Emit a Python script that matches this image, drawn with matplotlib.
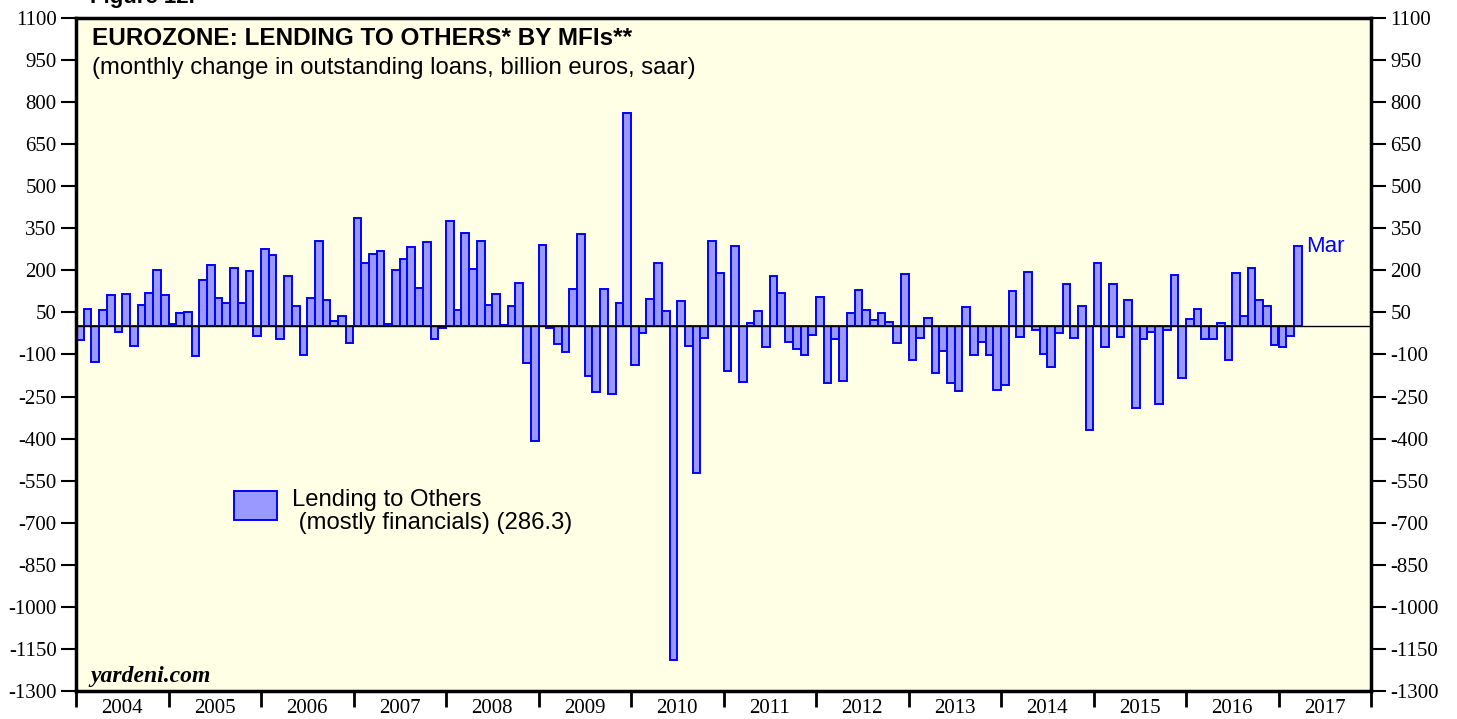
"""Eurozone lending to others by MFIs - monthly change bar chart."""

import matplotlib
matplotlib.use("Agg")
import matplotlib.pyplot as plt
import numpy as np

# monthly change in outstanding loans, billion euros, saar (Jan 2004 - Mar 2017)
lending = [
    # 2004
    -50, 62, -128, 59, 112, -21, 117, -69, 76, 120, 200, 111,
    # 2005
    8, 49, 52, -106, 165, 220, 101, 84, 208, 84, 197, -33,
    # 2006
    276, 254, -45, 181, 73, -103, 101, 303, 96, 19, 38, -58,
    # 2007
    388, 226, 257, 268, 10, 202, 241, 284, 137, 302, -46, -6,
    # 2008
    377, 57, 334, 204, 306, 77, 117, 6, 73, 156, -130, -409,
    # 2009
    290, -5, -62, -90, 133, 328, -175, -235, 133, -240, 84, 760,
    # 2010
    -137, -23, 97, 226, 54, -1190, 90, -68, -523, -42, 304, 190,
    # 2011
    -159, 288, -199, 12, 55, -74, 180, 119, -55, -80, -102, -32,
    # 2012
    105, -201, -44, -193, 48, 131, 59, 24, 48, 15, -58, 187,
    # 2013
    -119, -42, 30, -166, -89, -202, -231, 70, -103, -56, -102, -228,
    # 2014
    -207, 128, -36, 194, -11, -100, -146, -24, 151, -40, 74, -371,
    # 2015
    228, -75, 153, -39, 94, -291, -45, -21, -278, -11, 182, -185,
    # 2016
    26, 63, -43, -46, 14, -121, 191, 38, 207, 96, 72, -65,
    # 2017
    -73, -34, 286.3,
]
years = list(range(2004, 2018))
y_ticks = list(range(-1300, 1101, 150))

serif = ["Liberation Serif", "DejaVu Serif"]
sans = ["Liberation Sans", "DejaVu Sans"]

bar_fill = "#9999FF"
bar_edge = "#0000FF"

fig = plt.figure(figsize=(14.57, 7.19), dpi=100)
ax = fig.add_axes([76 / 1457, 1 - 691 / 719, (1371 - 76) / 1457, (691 - 18) / 719])
ax.set_facecolor("#FFFFE6")

x = np.arange(len(lending))
ax.bar(x, lending, width=1.0, align="edge", color=bar_fill,
       edgecolor=bar_edge, linewidth=1.4, zorder=2)
ax.axhline(0, color="black", linewidth=1.0, zorder=3)

n_months = len(years) * 12
ax.set_xlim(0, n_months)
ax.set_ylim(-1300, 1100)

for side in ["left", "right", "top", "bottom"]:
    ax.spines[side].set_linewidth(2.5)

# y axis on both sides
ax.set_yticks(y_ticks)
ax.set_yticklabels([str(v) for v in y_ticks], family=serif, fontsize=15)
ax.tick_params(axis="y", which="major", direction="out", length=11, width=1.5,
               left=True, right=True, labelleft=True, labelright=True, pad=3)

# x axis: year boundaries as ticks, year labels centred in each year
ax.set_xticks(np.arange(0, n_months + 1, 12))
ax.set_xticklabels([])
ax.tick_params(axis="x", which="major", direction="out", length=11.5, width=2)
ax.set_xticks(np.arange(6, n_months, 12), minor=True)
ax.set_xticklabels([str(y) for y in years], minor=True, family=serif, fontsize=15)
ax.tick_params(axis="x", which="minor", length=0, pad=6)

ax.text(0.012, 0.986, "EUROZONE: LENDING TO OTHERS* BY MFIs**", transform=ax.transAxes,
        family=sans, fontsize=17.5, fontweight="bold", va="top", ha="left")
ax.text(0.012, 0.942, "(monthly change in outstanding loans, billion euros, saar)",
        transform=ax.transAxes, family=sans, fontsize=17.2, va="top", ha="left")

ax.text(0.011, 0.006, "yardeni.com", transform=ax.transAxes, family=serif,
        fontsize=17, fontweight="bold", style="italic", va="bottom", ha="left")

ax.text(len(lending) + 0.6, lending[-1] - 2, "Mar", color=bar_edge,
        family=sans, fontsize=16, va="center", ha="left")

# legend key and label
ax.add_patch(plt.Rectangle((0.122, 0.254), 0.0332, 0.0431, transform=ax.transAxes,
                           facecolor=bar_fill, edgecolor=bar_edge, linewidth=1.4,
                           zorder=4))
ax.text(0.1668, 0.2995, "Lending to Others\n (mostly financials) (286.3)",
        transform=ax.transAxes, family=sans, fontsize=17.2, va="top", ha="left",
        linespacing=1.05)

fig.text(90 / 1457, 1.004, "Figure 12.", family=sans, fontsize=16,
         fontweight="bold", va="center", ha="left")

fig.savefig("out.png", dpi=100, facecolor="white")
